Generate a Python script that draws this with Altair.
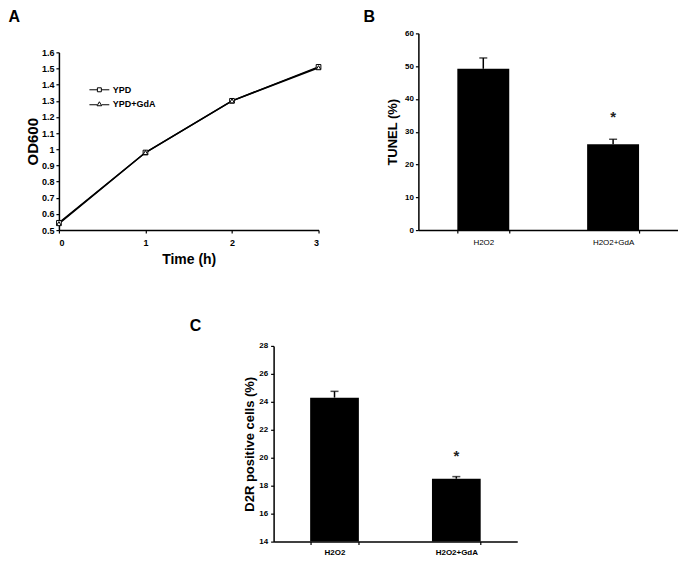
import altair as alt
import pandas as pd

# ---------------- data ----------------
time_h = [0, 1, 2, 3]
od_ypd = [0.545, 0.98, 1.30, 1.51]
od_gda = [0.54, 0.98, 1.30, 1.505]
series_names = ["YPD", "YPD+GdA"]
od_ticks = [0.5, 0.6, 0.7, 0.8, 0.9, 1.0, 1.1, 1.2, 1.3, 1.4, 1.5, 1.6]

groups = ["H2O2", "H2O2+GdA"]
tunel_mean = [49.2, 26.2]
tunel_err = [3.3, 1.5]
tunel_star = ["", "*"]
tunel_ticks = [0, 10, 20, 30, 40, 50, 60]

d2r_mean = [24.3, 18.5]
d2r_err = [0.45, 0.15]
d2r_star = ["", "*"]
d2r_ticks = [14, 16, 18, 20, 22, 24, 26, 28]

FONT = "Liberation Sans"

# ---------------- panel A ----------------
dfA = pd.DataFrame({
    "t": time_h * 2,
    "od": od_ypd + od_gda,
    "series": [series_names[0]] * len(time_h) + [series_names[1]] * len(time_h),
})

xA = alt.X("t:Q", scale=alt.Scale(domain=[0, 3], nice=False),
           axis=alt.Axis(values=time_h, tickCount=len(time_h), format="d", title="Time (h)",
                         titleFontSize=14, titlePadding=5, labelOverlap=False,
                         labelFontSize=9, labelFontWeight="bold", labelPadding=5))
yA = alt.Y("od:Q", scale=alt.Scale(domain=[0.5, 1.6], nice=False, zero=False,
                                   range=[197, 19]),
           axis=alt.Axis(values=od_ticks, tickCount=len(od_ticks), format="~g", title="OD600",
                         titleFontSize=15, titlePadding=1, labelOverlap=False,
                         labelFontSize=9, labelFontWeight="bold", labelPadding=2))

linesA = alt.Chart(dfA).mark_line(color="black", strokeWidth=1.5).encode(
    x=xA, y=yA, detail="series:N")

ptsA = alt.Chart(dfA).mark_point(filled=True, fill="white", stroke="black",
                                 strokeWidth=1, size=22, opacity=1).encode(
    x="t:Q", y="od:Q",
    shape=alt.Shape("series:N",
                    scale=alt.Scale(domain=series_names, range=["square", "triangle-up"]),
                    legend=None))

legend_paths = [
    "M-3,0H-0.6M0.6,0H3M-0.6,-0.6H0.6V0.6H-0.6Z",
    "M-3,0.3H-0.7M0.7,0.3H3M0,-0.6L0.7,0.6H-0.7Z",
]
legA = alt.Chart(dfA).transform_filter("false").mark_point(
    filled=True, fill="white", stroke="black", strokeWidth=1, opacity=1).encode(
    shape=alt.Shape("series:N",
                    scale=alt.Scale(domain=series_names, range=legend_paths),
                    legend=alt.Legend(title=None, orient="none", legendX=30, legendY=52,
                                      symbolSize=44, symbolOffset=6, labelOffset=9,
                                      labelFontSize=9, labelFontWeight="bold",
                                      labelColor="black", padding=0, rowPadding=4,
                                      symbolStrokeWidth=1)))

panelA = alt.layer(linesA, ptsA, legA).resolve_scale(shape="independent").properties(
    width=260, height=197,
    title=alt.TitleParams("A", anchor="start", dx=-17, offset=8, fontSize=16,
                          fontWeight="bold", font=FONT, color="black"))

# ---------------- bar panels ----------------
def bar_panel(means, errs, stars, ticks, ytitle, letter, w, h, xlabel_bold,
              title_dx, title_offset, star_dy, label_pad, title_pad, xlabel_pad):
    df = pd.DataFrame({
        "g": groups,
        "m": means,
        "hi": [a + b for a, b in zip(means, errs)],
        "star": stars,
    })
    x = alt.X("g:N", sort=groups,
              scale=alt.Scale(paddingInner=0.6, paddingOuter=0.3),
              axis=alt.Axis(title=None, labelAngle=0, tickBand="extent",
                            labelFontSize=8, labelOverlap=False,
                            labelFontWeight="bold" if xlabel_bold else "normal",
                            labelPadding=xlabel_pad))
    y = alt.Y("m:Q", scale=alt.Scale(domain=[ticks[0], ticks[-1]], nice=False, zero=False),
              axis=alt.Axis(values=ticks, tickCount=len(ticks), title=ytitle, titleFontSize=13,
                            titlePadding=title_pad, labelFontSize=8, labelFontWeight="bold",
                            labelPadding=label_pad, labelOverlap=False))
    bars = alt.Chart(df).mark_bar(color="black", clip=True).encode(x=x, y=y)
    err = alt.Chart(df).mark_rule(color="black", strokeWidth=1.5).encode(
        x=alt.X("g:N", sort=groups), y="m:Q", y2="hi:Q")
    cap = alt.Chart(df).mark_tick(color="black", thickness=1.5, size=8).encode(
        x=alt.X("g:N", sort=groups), y="hi:Q")
    star = alt.Chart(df).mark_text(fontSize=15, fontWeight="bold", dy=star_dy,
                                   baseline="middle", color="#222222").encode(
        x=alt.X("g:N", sort=groups), y="hi:Q", text="star:N")
    return alt.layer(bars, err, cap, star).properties(
        width=w, height=h,
        title=alt.TitleParams(letter, anchor="start", dx=title_dx, offset=title_offset,
                              fontSize=16, fontWeight="bold", font=FONT, color="black"))

panelB = bar_panel(tunel_mean, tunel_err, tunel_star, tunel_ticks, "TUNEL (%)", "B",
                   260, 197, False, -23, 4, -22, 2, 5, 5)
panelC = bar_panel(d2r_mean, d2r_err, d2r_star, d2r_ticks, "D2R positive cells (%)", "C",
                   244, 196, True, -54, 8, -21, 3, 2, 4)

spacer = alt.Chart(pd.DataFrame({"v": [0]})).mark_point(opacity=0).encode(
    x=alt.X("v:Q", axis=None), y=alt.Y("v:Q", axis=None)).properties(width=131, height=10)

top = alt.hconcat(panelA, panelB, spacing=40)
bottom = alt.hconcat(spacer, panelC, spacing=0)
chart = alt.vconcat(top, bottom, spacing=52, center=False).properties(padding=0).configure(
    font=FONT,
).configure_view(stroke=None).configure_axis(
    grid=False, domainColor="black", domainWidth=1.5, tickColor="black",
    tickWidth=1.2, tickSize=3, labelColor="black", titleColor="black",
    labelFont=FONT, titleFont=FONT, titleFontWeight="bold",
    labelOverlap=False, labelBound=False,
).configure_legend(labelFont=FONT)

chart.save("out.html", embed_options={"renderer": "svg", "actions": False})
